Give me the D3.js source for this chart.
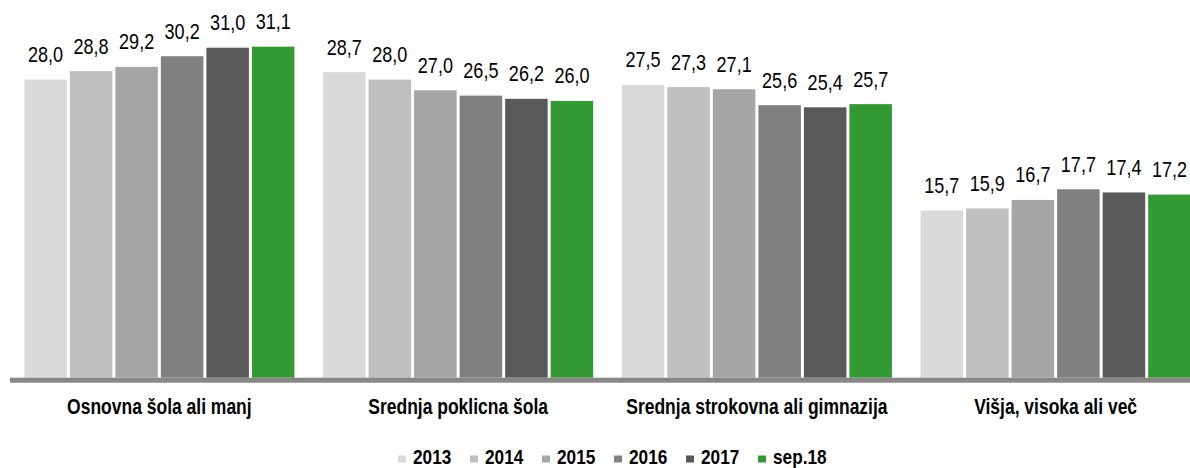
<!DOCTYPE html>
<html>
<head>
<meta charset="utf-8">
<script src="https://cdn.jsdelivr.net/npm/d3@7"></script>
<style>
  body { margin: 0; background: #fff; }
  svg text { font-family: "Liberation Sans", Arial, sans-serif; }
</style>
</head>
<body>
<div id="chart"></div>
<script>
// Categories, series names and values.
const categories = ["Osnovna šola ali manj", "Srednja poklicna šola",
                    "Srednja strokovna ali gimnazija", "Višja, visoka ali več"];
const series = ["2013", "2014", "2015", "2016", "2017", "sep.18"];
const colors = ["#d9d9d9", "#bfbfbf", "#a6a6a6", "#808080", "#595959", "#339933"];

const v2013 = [28.0, 28.7, 27.5, 15.7];
const v2014 = [28.8, 28.0, 27.3, 15.9];
const v2015 = [29.2, 27.0, 27.1, 16.7];
const v2016 = [30.2, 26.5, 25.6, 17.7];
const v2017 = [31.0, 26.2, 25.4, 17.4];
const vSep18 = [31.1, 26.0, 25.7, 17.2];
const values = [v2013, v2014, v2015, v2016, v2017, vSep18];

const width = 1190, height = 468;

// Build the svg
const svg = d3.select("#chart").append("svg")
    .attr("width", width)
    .attr("height", height);

// Plot area: the group band runs a little past the right edge, as in the reference.
const x0 = d3.scaleBand()
    .domain(categories)
    .range([10, 1205])
    .paddingInner(0)
    .paddingOuter(0);

const x1 = d3.scaleBand()
    .domain(series)
    .range([12.8, x0.bandwidth() - 12.8])
    .paddingInner(0);

const y = d3.scaleLinear()
    .domain([0, 35])
    .range([377.7, 377.7 - 35 * 10.645]);

// helper: place a text and squeeze it sideways (the reference uses a narrow face)
function place(sel, fx, fy, k) {
    sel.attr("transform", (d, i) => `translate(${fx(d, i)},${fy(d, i)}) scale(${k},1)`);
}

// One g per category, one rect per series
const groups = svg.selectAll("g.grp")
    .data(categories)
    .join("g")
    .attr("class", "grp")
    .attr("transform", d => `translate(${x0(d)},0)`);

groups.each(function (cat, ci) {
    const g = d3.select(this);
    const rows = series.map((s, si) => ({ s: s, si: si, v: values[si][ci] }));

    g.selectAll("rect")
        .data(rows)
        .join("rect")
        .attr("x", d => x1(d.s) + 1.5)
        .attr("width", x1.bandwidth() - 3)
        .attr("y", d => y(d.v))
        .attr("height", d => y(0) - y(d.v))
        .attr("fill", d => colors[d.si]);

    g.selectAll("text.val")
        .data(rows)
        .join("text")
        .attr("class", "val")
        .attr("text-anchor", "middle")
        .attr("font-size", 22)
        .attr("fill", "#000")
        .text(d => d.v.toFixed(1).replace(".", ","))
        .call(place, d => x1(d.s) + x1.bandwidth() / 2, d => y(d.v) - 17.5, 0.82);
});

// Category axis line
svg.append("rect")
    .attr("x", 10)
    .attr("y", y(0))
    .attr("width", width - 10)
    .attr("height", 5)
    .attr("fill", "#878787");

// Category labels
svg.selectAll("text.cat")
    .data(categories)
    .join("text")
    .attr("class", "cat")
    .attr("text-anchor", "middle")
    .attr("font-size", 22)
    .attr("font-weight", "bold")
    .attr("fill", "#000")
    .text(d => d)
    .call(place, d => x0(d) + x0.bandwidth() / 2, () => 414, 0.795);

// Legend
const legend = svg.selectAll("g.leg")
    .data(series)
    .join("g")
    .attr("class", "leg")
    .attr("transform", (d, i) => `translate(${398 + i * 72},0)`);

legend.append("rect")
    .attr("x", 0)
    .attr("y", 455.5)
    .attr("width", 8)
    .attr("height", 7)
    .attr("fill", (d, i) => colors[i]);

legend.append("text")
    .attr("font-size", 21)
    .attr("font-weight", "bold")
    .attr("fill", "#000")
    .text(d => d)
    .call(place, () => 15, () => 464, 0.82);
</script>
</body>
</html>
